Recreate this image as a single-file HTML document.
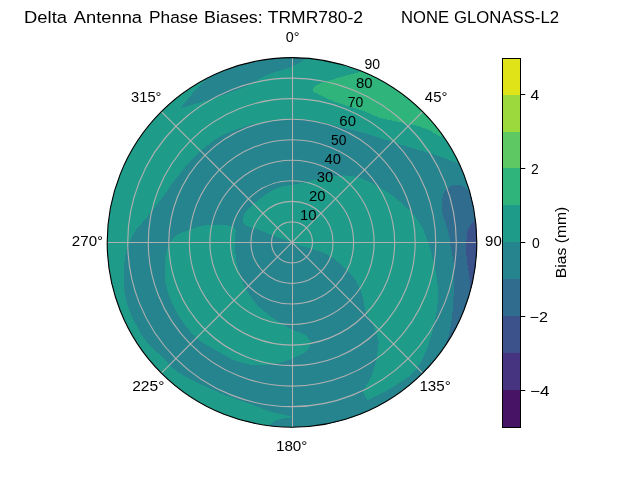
<!DOCTYPE html><html><head><meta charset="utf-8"><style>html,body{margin:0;padding:0;background:#fff;overflow:hidden}svg{display:block;will-change:transform}text{font-family:"Liberation Sans",sans-serif;fill:#000}</style></head><body>
<svg width="640" height="480" viewBox="0 0 640 480">
<rect width="640" height="480" fill="#fff"/>
<defs><clipPath id="c"><circle cx="292.0" cy="242.4" r="184.8"/></clipPath></defs>
<g clip-path="url(#c)" shape-rendering="crispEdges">
<rect x="100" y="50" width="390" height="390" fill="#1e9c89"/>
<path d="M530.00,150.00 C530.00,150.00 475.00,166.00 475.00,166.00 C475.00,166.00 463.54,164.88 458.10,163.40 C452.71,161.93 447.74,159.03 442.50,157.20 C437.34,155.40 432.10,154.07 426.90,152.50 C421.69,150.93 416.47,149.37 411.25,147.80 C406.03,146.23 400.81,144.72 395.60,143.10 C390.39,141.48 385.35,139.81 380.00,138.10 C374.33,136.29 367.87,134.02 362.50,132.50 C358.01,131.23 354.17,130.44 350.00,129.40 C345.83,128.36 341.67,127.30 337.50,126.25 C333.33,125.20 329.18,124.04 325.00,123.10 C320.84,122.16 316.68,121.33 312.50,120.60 C308.34,119.88 303.73,119.01 300.00,118.75 C297.02,118.54 295.45,118.55 291.90,118.80 C284.97,119.28 269.11,121.74 261.40,122.90 C256.68,123.61 254.51,123.59 250.00,124.80 C242.97,126.69 230.50,131.42 223.75,134.70 C219.19,136.91 216.37,138.82 212.80,141.30 C209.08,143.89 205.26,147.00 201.90,150.00 C198.73,152.83 195.82,156.09 193.10,158.75 C190.78,161.02 188.69,162.65 186.60,165.00 C184.30,167.59 182.44,170.57 180.00,173.75 C177.03,177.61 172.04,183.53 170.00,186.50 C168.97,187.99 168.83,188.61 167.90,190.00 C166.42,192.21 163.86,195.46 161.70,198.30 C159.38,201.35 156.83,204.57 154.40,207.70 C151.97,210.83 149.48,214.19 147.10,217.10 C144.96,219.72 142.79,222.06 140.80,224.40 C138.98,226.54 137.14,228.37 135.60,230.60 C134.03,232.87 132.67,235.61 131.50,237.90 C130.49,239.87 129.77,241.22 128.90,243.50 C127.62,246.85 125.79,251.73 125.00,256.25 C124.14,261.15 124.37,266.91 124.20,271.90 C124.05,276.46 123.83,280.93 124.00,285.00 C124.15,288.56 124.42,291.69 125.00,295.00 C125.58,298.35 126.47,301.70 127.50,305.00 C128.55,308.36 129.81,311.70 131.25,315.00 C132.72,318.37 134.53,321.73 136.25,325.00 C137.95,328.23 139.60,331.47 141.50,334.50 C143.36,337.47 145.02,340.14 147.50,343.00 C150.50,346.46 154.95,349.93 158.60,353.50 C162.28,357.09 166.06,361.15 169.50,364.50 C172.48,367.41 174.59,370.09 178.00,372.50 C182.03,375.35 187.84,377.63 192.50,380.00 C196.81,382.19 200.81,384.26 205.00,386.25 C209.15,388.22 213.31,390.12 217.50,391.90 C221.65,393.67 225.82,395.34 230.00,396.90 C234.15,398.45 237.99,399.66 242.50,401.25 C247.85,403.14 254.99,405.61 260.00,407.50 C263.81,408.94 265.87,410.23 270.00,411.50 C276.31,413.44 294.50,416.90 294.50,416.90 C294.50,416.90 282.49,418.21 278.00,419.80 C274.58,421.01 269.50,424.50 269.50,424.50 C269.50,424.50 262.00,440.00 262.00,440.00 C262.00,440.00 530.00,440.00 530.00,440.00 C530.00,440.00 530.00,150.00 530.00,150.00Z" fill="#25848e"/>
<path d="M242.75,220.00 C242.74,217.36 244.76,213.59 246.90,210.60 C249.51,206.96 253.72,203.70 258.10,200.30 C263.42,196.18 270.72,190.67 276.90,188.10 C282.08,185.95 287.99,185.64 292.25,184.80 C295.26,184.20 296.98,184.05 300.00,183.40 C304.31,182.47 310.38,180.67 315.60,179.50 C320.80,178.34 326.01,177.05 331.25,176.40 C336.44,175.76 341.71,175.21 346.90,175.60 C352.13,175.99 357.42,176.99 362.50,178.75 C367.83,180.59 373.25,183.87 378.10,186.60 C382.56,189.11 387.40,192.23 390.60,194.40 C392.68,195.81 393.52,196.40 395.60,198.10 C399.42,201.23 406.89,207.42 411.25,212.20 C415.00,216.31 417.99,220.26 420.60,224.70 C423.20,229.11 424.95,233.40 426.90,238.75 C429.34,245.45 431.68,254.18 433.50,262.00 C435.31,269.79 437.16,278.51 437.80,285.60 C438.32,291.32 438.22,295.71 437.80,301.25 C437.32,307.61 436.17,314.62 434.70,321.60 C433.11,329.17 431.37,337.25 428.40,345.00 C425.23,353.29 421.12,363.27 415.90,369.70 C411.46,375.17 405.63,378.49 400.30,382.20 C395.22,385.75 390.09,388.64 384.70,391.60 C379.16,394.65 367.50,400.20 367.50,400.20 C367.50,400.20 362.80,391.60 362.80,391.60 C362.80,391.60 369.85,380.42 372.20,374.40 C374.54,368.42 375.87,361.61 376.90,355.60 C377.83,350.19 379.04,345.01 378.40,340.00 C377.77,335.08 375.31,330.59 373.20,325.80 C370.91,320.60 366.61,315.00 365.00,310.00 C363.69,305.92 364.32,302.27 363.30,298.30 C362.18,293.95 360.35,289.01 358.30,285.00 C356.42,281.31 354.32,278.21 351.70,275.00 C348.86,271.52 345.40,268.21 341.70,265.00 C337.67,261.52 333.09,257.65 328.30,255.00 C323.61,252.41 318.20,250.77 313.30,249.20 C308.78,247.75 303.83,247.07 300.00,245.80 C296.96,244.79 295.18,243.74 292.00,242.50 C287.40,240.71 280.64,238.43 275.00,236.25 C269.34,234.06 263.40,231.36 258.10,229.40 C253.48,227.69 247.42,227.19 245.00,225.00 C243.48,223.62 242.76,221.93 242.75,220.00Z" fill="#1e9c89"/>
<path d="M200.00,226.25 C206.43,225.03 218.62,224.01 225.00,225.00 C229.17,225.65 233.34,226.31 235.00,228.75 C236.70,231.25 234.73,235.95 234.80,240.00 C234.88,244.78 234.95,250.42 235.60,255.60 C236.26,260.84 237.10,265.88 238.75,271.25 C240.61,277.31 243.40,284.20 246.60,290.00 C249.69,295.62 253.88,301.62 257.50,305.60 C260.21,308.58 262.39,310.02 265.60,312.50 C269.90,315.82 276.10,320.18 281.25,323.40 C285.99,326.36 291.00,329.35 295.30,331.25 C298.67,332.74 302.09,332.58 304.70,334.40 C307.33,336.23 311.00,342.20 311.00,342.20 C311.00,342.20 308.61,349.26 306.25,351.60 C303.90,353.93 300.45,354.66 296.90,356.25 C292.39,358.27 286.55,361.07 281.25,362.50 C276.11,363.88 270.83,364.42 265.60,364.80 C260.41,365.18 255.29,365.58 250.00,364.80 C244.27,363.95 237.92,361.78 232.50,359.50 C227.40,357.35 223.36,354.62 218.30,351.70 C212.32,348.25 204.08,343.96 199.00,340.00 C195.16,337.00 192.76,334.29 189.80,330.90 C186.54,327.17 183.25,322.79 180.40,318.40 C177.51,313.96 174.93,309.62 172.60,304.40 C169.90,298.34 166.89,290.86 165.60,284.00 C164.36,277.39 164.34,270.38 164.80,264.00 C165.23,258.05 165.94,251.79 168.00,246.90 C169.81,242.60 172.30,238.73 175.75,235.90 C179.44,232.88 185.46,231.39 189.80,229.70 C193.44,228.29 195.78,227.05 200.00,226.25Z" fill="#1e9c89"/>
<path d="M180.50,108.30 C180.50,108.30 187.22,99.53 190.60,95.60 C193.72,91.98 197.39,88.05 200.00,85.50 C201.73,83.81 204.50,81.50 204.50,81.50 C204.50,81.50 195.00,70.00 195.00,70.00 C195.00,70.00 300.00,40.00 300.00,40.00 C300.00,40.00 306.25,58.90 306.25,58.90 C306.25,58.90 297.07,64.48 291.25,67.00 C283.83,70.21 272.38,72.37 265.00,75.75 C259.14,78.44 255.60,81.95 250.00,84.70 C243.50,87.89 234.80,90.81 228.10,93.30 C222.48,95.38 217.72,97.06 212.50,98.75 C207.32,100.43 202.16,101.83 196.90,103.40 C191.50,105.01 180.50,108.30 180.50,108.30Z" fill="#25848e"/>
<path d="M312.50,88.50 C312.50,88.50 317.35,84.49 320.30,83.10 C323.53,81.58 327.28,81.16 331.25,80.00 C336.01,78.61 341.96,76.65 346.90,75.30 C351.29,74.10 356.82,73.11 359.40,72.20 C360.62,71.77 362.00,71.00 362.00,71.00 C362.00,71.00 380.00,40.00 380.00,40.00 C380.00,40.00 470.00,110.00 470.00,110.00 C470.00,110.00 440.50,137.00 440.50,137.00 C440.50,137.00 431.73,131.09 426.90,129.00 C421.99,126.87 416.50,125.70 411.25,124.40 C406.06,123.12 400.81,122.35 395.60,121.25 C390.39,120.15 385.27,119.47 380.00,117.80 C374.25,115.98 368.82,112.78 362.50,110.50 C355.30,107.90 345.98,105.80 339.00,103.30 C333.22,101.23 328.00,99.06 323.40,96.90 C319.59,95.12 313.20,91.50 313.20,91.50 C313.20,91.50 312.50,88.50 312.50,88.50Z" fill="#2fb47c"/>
<path d="M455.00,184.80 C458.05,184.37 461.96,185.80 464.40,187.20 C466.41,188.36 469.00,191.90 469.00,191.90 C469.00,191.90 490.00,200.00 490.00,200.00 C490.00,200.00 490.00,345.00 490.00,345.00 C490.00,345.00 445.00,345.00 445.00,345.00 C445.00,345.00 447.32,340.00 448.30,336.70 C449.66,332.15 450.87,325.84 451.70,320.00 C452.60,313.66 452.84,306.52 453.30,300.00 C453.74,293.77 454.38,288.00 454.40,281.70 C454.43,274.97 454.08,267.26 453.30,260.80 C452.62,255.14 450.94,249.36 450.30,245.00 C449.86,241.96 449.97,239.90 449.50,237.20 C448.98,234.20 448.19,231.22 447.20,227.80 C445.98,223.56 443.39,218.20 442.50,213.75 C441.73,209.92 441.27,206.53 441.70,202.80 C442.17,198.73 443.18,193.34 445.60,190.30 C447.80,187.53 451.77,185.25 455.00,184.80Z" fill="#2f6c8e"/>
<path d="M477.00,219.00 C477.00,219.00 490.00,215.00 490.00,215.00 C490.00,215.00 490.00,295.00 490.00,295.00 C490.00,295.00 470.00,290.00 470.00,290.00 C470.00,290.00 470.25,285.08 470.00,281.70 C469.60,276.30 467.49,266.64 466.90,260.80 C466.48,256.62 466.35,253.79 466.30,250.00 C466.25,245.80 466.27,240.61 466.70,236.70 C467.04,233.56 466.94,230.98 468.30,228.30 C469.96,225.03 477.00,219.00 477.00,219.00Z" fill="#3b528b"/>
</g>
<g fill="none" stroke="#b0b0b0" stroke-width="1.11">
<circle cx="292.0" cy="242.4" r="20.53"/>
<circle cx="292.0" cy="242.4" r="41.07"/>
<circle cx="292.0" cy="242.4" r="61.60"/>
<circle cx="292.0" cy="242.4" r="82.13"/>
<circle cx="292.0" cy="242.4" r="102.67"/>
<circle cx="292.0" cy="242.4" r="123.20"/>
<circle cx="292.0" cy="242.4" r="143.73"/>
<circle cx="292.0" cy="242.4" r="164.27"/>
</g>
<g stroke="#b0b0b0" stroke-width="1">
<line x1="292.5" y1="57.6" x2="292.5" y2="427.2"/>
<line x1="107.2" y1="242.5" x2="476.8" y2="242.5"/>
<line x1="161.33" y1="111.73" x2="422.67" y2="373.07" stroke-width="1.11"/>
<line x1="161.33" y1="373.07" x2="422.67" y2="111.73" stroke-width="1.11"/>
</g>
<circle cx="292.0" cy="242.4" r="184.80" fill="none" stroke="#000" stroke-width="1.11"/>
<text x="24.00" y="23.00" font-size="16.667" textLength="43.00" lengthAdjust="spacingAndGlyphs" xml:space="preserve">Delta</text>
<text x="73.80" y="23.00" font-size="16.667" textLength="68.20" lengthAdjust="spacingAndGlyphs" xml:space="preserve">Antenna</text>
<text x="149.00" y="23.00" font-size="16.667" textLength="49.00" lengthAdjust="spacingAndGlyphs" xml:space="preserve">Phase</text>
<text x="204.00" y="23.00" font-size="16.667" textLength="58.80" lengthAdjust="spacingAndGlyphs" xml:space="preserve">Biases:</text>
<text x="267.80" y="23.00" font-size="16.667" textLength="95.20" lengthAdjust="spacingAndGlyphs" xml:space="preserve">TRMR780-2</text>
<text x="401.00" y="23.00" font-size="16.667" textLength="48.00" lengthAdjust="spacingAndGlyphs" xml:space="preserve">NONE</text>
<text x="454.00" y="23.00" font-size="16.667" textLength="105.00" lengthAdjust="spacingAndGlyphs" xml:space="preserve">GLONASS-L2</text>
<text x="285.83" y="42.00" font-size="13.889" textLength="13.75" lengthAdjust="spacingAndGlyphs" xml:space="preserve">0°</text>
<text x="424.87" y="102.00" font-size="13.889" textLength="22.50" lengthAdjust="spacingAndGlyphs" xml:space="preserve">45°</text>
<text x="485.13" y="246.00" font-size="13.889" textLength="22.62" lengthAdjust="spacingAndGlyphs" xml:space="preserve">90°</text>
<text x="419.44" y="391.00" font-size="13.889" textLength="31.38" lengthAdjust="spacingAndGlyphs" xml:space="preserve">135°</text>
<text x="275.95" y="451.00" font-size="13.889" textLength="31.50" lengthAdjust="spacingAndGlyphs" xml:space="preserve">180°</text>
<text x="132.15" y="391.00" font-size="13.889" textLength="32.25" lengthAdjust="spacingAndGlyphs" xml:space="preserve">225°</text>
<text x="71.83" y="246.00" font-size="13.889" textLength="31.25" lengthAdjust="spacingAndGlyphs" xml:space="preserve">270°</text>
<text x="131.09" y="102.00" font-size="13.889" textLength="30.38" lengthAdjust="spacingAndGlyphs" xml:space="preserve">315°</text>
<text x="300.06" y="220.00" font-size="13.889" textLength="16.62" lengthAdjust="spacingAndGlyphs" xml:space="preserve">10</text>
<text x="308.92" y="201.00" font-size="13.889" textLength="16.50" lengthAdjust="spacingAndGlyphs" xml:space="preserve">20</text>
<text x="316.77" y="182.00" font-size="13.889" textLength="16.50" lengthAdjust="spacingAndGlyphs" xml:space="preserve">30</text>
<text x="324.63" y="164.00" font-size="13.889" textLength="16.50" lengthAdjust="spacingAndGlyphs" xml:space="preserve">40</text>
<text x="330.99" y="145.00" font-size="13.889" textLength="15.50" lengthAdjust="spacingAndGlyphs" xml:space="preserve">50</text>
<text x="339.35" y="126.00" font-size="13.889" textLength="16.62" lengthAdjust="spacingAndGlyphs" xml:space="preserve">60</text>
<text x="347.70" y="107.00" font-size="13.889" textLength="15.50" lengthAdjust="spacingAndGlyphs" xml:space="preserve">70</text>
<text x="356.06" y="88.00" font-size="13.889" textLength="16.62" lengthAdjust="spacingAndGlyphs" xml:space="preserve">80</text>
<text x="364.42" y="69.00" font-size="13.889" textLength="15.62" lengthAdjust="spacingAndGlyphs" xml:space="preserve">90</text>
<rect x="502.0" y="390" width="18.50" height="37" fill="#471365" shape-rendering="crispEdges"/>
<rect x="502.0" y="353" width="18.50" height="37" fill="#463480" shape-rendering="crispEdges"/>
<rect x="502.0" y="316" width="18.50" height="37" fill="#3b528b" shape-rendering="crispEdges"/>
<rect x="502.0" y="279" width="18.50" height="37" fill="#2f6c8e" shape-rendering="crispEdges"/>
<rect x="502.0" y="242" width="18.50" height="37" fill="#25848e" shape-rendering="crispEdges"/>
<rect x="502.0" y="205" width="18.50" height="37" fill="#1e9c89" shape-rendering="crispEdges"/>
<rect x="502.0" y="168" width="18.50" height="37" fill="#2fb47c" shape-rendering="crispEdges"/>
<rect x="502.0" y="132" width="18.50" height="36" fill="#5ec962" shape-rendering="crispEdges"/>
<rect x="502.0" y="95" width="18.50" height="37" fill="#9bd93c" shape-rendering="crispEdges"/>
<rect x="502.0" y="58" width="18.50" height="37" fill="#dfe318" shape-rendering="crispEdges"/>
<rect x="502.5" y="58.5" width="18" height="369" fill="none" stroke="#000" stroke-width="1"/>
<line x1="520.5" y1="390.5" x2="525.3" y2="390.5" stroke="#000" stroke-width="1"/>
<line x1="520.5" y1="316.5" x2="525.3" y2="316.5" stroke="#000" stroke-width="1"/>
<line x1="520.5" y1="242.5" x2="525.3" y2="242.5" stroke="#000" stroke-width="1"/>
<line x1="520.5" y1="168.5" x2="525.3" y2="168.5" stroke="#000" stroke-width="1"/>
<line x1="520.5" y1="94.5" x2="525.3" y2="94.5" stroke="#000" stroke-width="1"/>
<text x="530.00" y="396.00" font-size="13.889" textLength="19.38" lengthAdjust="spacingAndGlyphs" xml:space="preserve">−4</text>
<text x="529.50" y="322.00" font-size="13.889" textLength="18.38" lengthAdjust="spacingAndGlyphs" xml:space="preserve">−2</text>
<text x="532.00" y="248.00" font-size="13.889" textLength="7.75" lengthAdjust="spacingAndGlyphs" xml:space="preserve">0</text>
<text x="531.00" y="174.00" font-size="13.889" textLength="7.75" lengthAdjust="spacingAndGlyphs" xml:space="preserve">2</text>
<text x="530.50" y="100.00" font-size="13.889" textLength="8.75" lengthAdjust="spacingAndGlyphs" xml:space="preserve">4</text>
<text transform="translate(566.00,242.40) rotate(-90)" text-anchor="middle" font-size="13.889" textLength="71.50" lengthAdjust="spacingAndGlyphs">Bias (mm)</text>
</svg></body></html>
